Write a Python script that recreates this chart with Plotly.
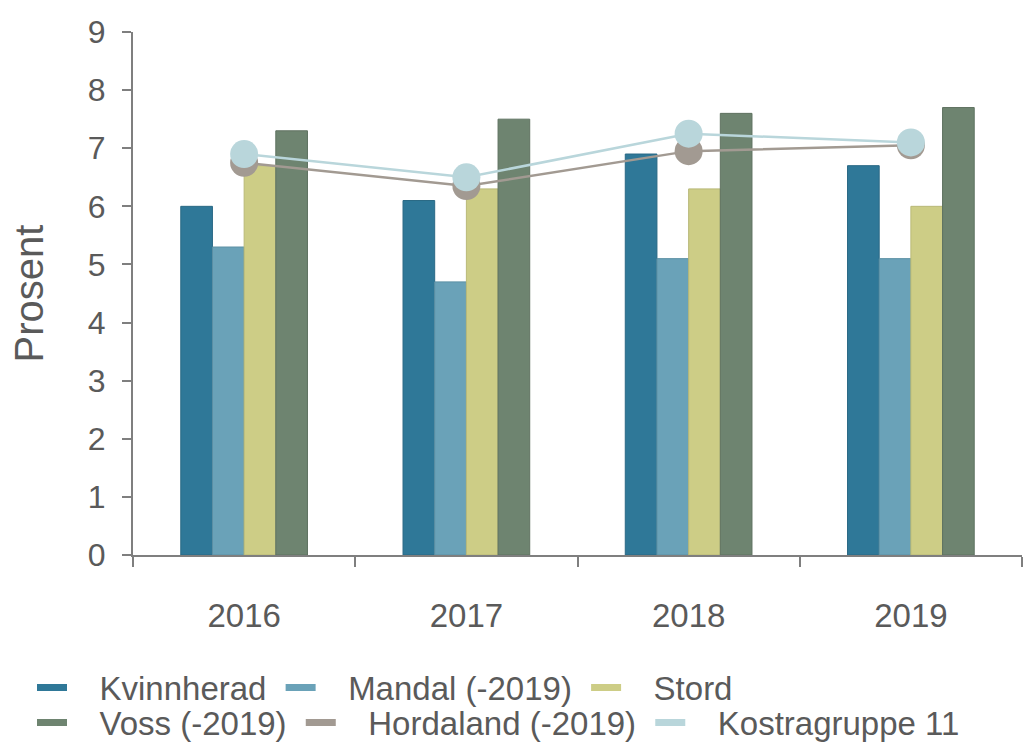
import plotly.graph_objects as go

years = ["2016", "2017", "2018", "2019"]
kvinnherad = [6.0, 6.1, 6.9, 6.7]
mandal = [5.3, 4.7, 5.1, 5.1]
stord = [6.7, 6.3, 6.3, 6.0]
voss = [7.3, 7.5, 7.6, 7.7]
hordaland = [6.75, 6.35, 6.95, 7.05]
kostra = [6.9, 6.5, 7.25, 7.1]

bar_names = ["Kvinnherad", "Mandal (-2019)", "Stord", "Voss (-2019)"]
bar_values = [kvinnherad, mandal, stord, voss]
bar_colors = ["#2f7898", "#6aa2b8", "#cdcd86", "#6e8470"]
bar_edges = ["#2a6985", "#5c90a4", "#b9b978", "#5f7261"]

line_names = ["Hordaland (-2019)", "Kostragruppe 11"]
line_values = [hordaland, kostra]
line_colors = ["#a29a92", "#b9d6db"]

FONT = "Liberation Sans, Arial, sans-serif"
TXT = "#5a5a5a"
NB = "\u00a0"

fig = go.Figure()
for name, vals, c, e in zip(bar_names, bar_values, bar_colors, bar_edges):
    fig.add_trace(go.Bar(x=years, y=vals, name=name, marker=dict(color=c, line=dict(color=e, width=1)),
                         showlegend=False))
for name, vals, c in zip(line_names, line_values, line_colors):
    fig.add_trace(go.Scatter(x=years, y=vals, name=name, mode="lines+markers",
                             line=dict(color=c, width=2.5),
                             marker=dict(size=28, color=c), showlegend=False))

# legend proxies
legend_items = list(zip(bar_names, bar_colors)) + list(zip(line_names, line_colors))
for i, (name, c) in enumerate(legend_items):
    fig.add_trace(go.Scatter(x=[None], y=[None], mode="lines", name=NB * 3 + name + NB,
                             line=dict(color=c, width=7),
                             legend="legend" if i < 3 else "legend2"))

LX = (37 - 5 - 133) / 889
fig.update_layout(
    width=1024, height=747,
    margin=dict(l=133, r=2, t=32, b=192, autoexpand=False),
    paper_bgcolor="white", plot_bgcolor="white",
    barmode="group", bargap=0.43, bargroupgap=0,
    font=dict(family=FONT, color=TXT, size=33),
    legend=dict(orientation="h", x=LX, xanchor="left", y=(555 - 687.5) / 523, yanchor="middle",
                font=dict(size=33, color=TXT), itemwidth=30, tracegroupgap=0,
                bgcolor="rgba(0,0,0,0)"),
    legend2=dict(orientation="h", x=LX, xanchor="left", y=(555 - 722.5) / 523, yanchor="middle",
                 font=dict(size=33, color=TXT), itemwidth=30, tracegroupgap=0,
                 bgcolor="rgba(0,0,0,0)"),
)
fig.update_xaxes(showline=True, linecolor="#7f7f7f", linewidth=2, ticks="outside",
                 tickson="boundaries", ticklen=10, tickcolor="#7f7f7f", tickwidth=2,
                 showgrid=False, tickfont=dict(size=33, color=TXT), ticklabelstandoff=30,
                 automargin=False)
fig.update_yaxes(range=[0, 9], dtick=1, showline=True, linecolor="#7f7f7f", linewidth=2,
                 ticks="outside", ticklen=9, tickcolor="#7f7f7f", tickwidth=2,
                 showgrid=False, zeroline=False, tickfont=dict(size=32, color=TXT),
                 ticklabelstandoff=10, automargin=False,
                 title=dict(text="Prosent", font=dict(size=40, color=TXT), standoff=32))

fig.write_html("out.html", config={"displayModeBar": False},
               post_script="document.body.style.margin='0px';document.body.style.overflow='hidden';")
